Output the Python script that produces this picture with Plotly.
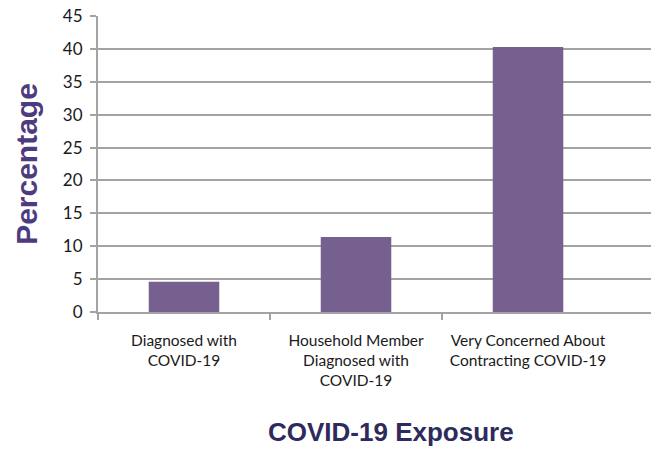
import plotly.graph_objects as go

categories = [
    "Diagnosed with<br>COVID-19",
    "Household Member<br>Diagnosed with<br>COVID-19",
    "Very Concerned About<br>Contracting COVID-19",
]
percentages = [4.6, 11.4, 40.3]
y_ticks = [0, 5, 10, 15, 20, 25, 30, 35, 40, 45]

positions = list(range(len(categories)))
boundaries = [p - 0.5 for p in positions]

bar_color = "#76608f"
grid_color = "#a3a3a3"
x_max = 2.715

fig = go.Figure()
fig.add_trace(go.Bar(
    x=positions,
    y=percentages,
    width=0.41,
    marker=dict(color=bar_color, line=dict(width=0)),
    showlegend=False,
    hoverinfo="skip",
))

fig.update_layout(
    width=651,
    height=449,
    margin=dict(l=98, r=0, t=16, b=137),
    plot_bgcolor="white",
    paper_bgcolor="white",
    font=dict(family="Lato, Open Sans, sans-serif", color="#1a1a1a"),
    xaxis=dict(
        range=[-0.5, x_max],
        tickmode="array",
        tickvals=positions,
        ticktext=categories,
        ticks="outside",
        ticklen=14,
        tickcolor="rgba(0,0,0,0)",
        tickfont=dict(size=15.5, color="#1a1a1a"),
        showgrid=False,
        zeroline=False,
        showline=False,
    ),
    xaxis2=dict(
        range=[-0.5, x_max],
        overlaying="x",
        side="bottom",
        tickmode="array",
        tickvals=boundaries,
        ticks="outside",
        ticklen=6,
        tickwidth=1.5,
        tickcolor=grid_color,
        showticklabels=False,
        showgrid=False,
        zeroline=False,
        showline=True,
        linecolor=grid_color,
        linewidth=2,
    ),
    yaxis=dict(
        range=[0, 45],
        tickmode="array",
        tickvals=y_ticks,
        ticks="outside",
        ticklen=6,
        tickwidth=1.5,
        tickcolor=grid_color,
        tickfont=dict(size=17, color="#1a1a1a"),
        ticklabelstandoff=4,
        showgrid=True,
        gridcolor=grid_color,
        gridwidth=1.5,
        zeroline=False,
        showline=True,
        linecolor=grid_color,
        linewidth=2,
        title=dict(
            text="<b>Percentage</b>",
            font=dict(family="Liberation Sans, Arial, sans-serif", size=30, color="#4d3b80"),
            standoff=16,
        ),
    ),
    annotations=[
        dict(
            text="<b>COVID-19 Exposure</b>",
            xref="paper", yref="paper",
            x=0.53, y=-0.405,
            xanchor="center", yanchor="middle",
            showarrow=False,
            font=dict(family="Liberation Sans, Arial, sans-serif", size=26, color="#2c2b5c"),
        )
    ],
)

# empty trace so the boundary-tick axis is rendered
fig.add_trace(go.Scatter(x=[None], y=[None], xaxis="x2", showlegend=False, hoverinfo="skip"))

fig.write_html("out.html")
